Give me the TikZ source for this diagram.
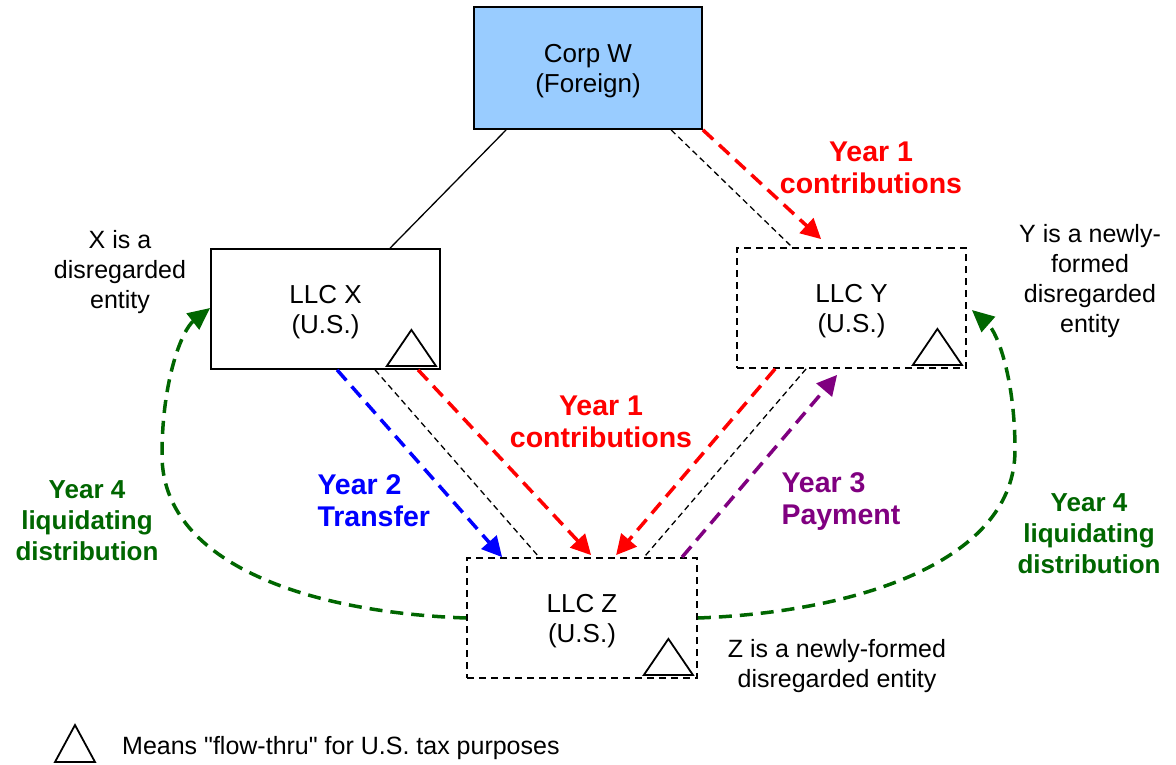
\documentclass[tikz,border=0pt]{standalone}
\usepackage{fontspec}
\setmainfont{Liberation Sans}[Ligatures=TeXOff]
\usetikzlibrary{arrows.meta}
\definecolor{wblue}{HTML}{99CCFF}
\definecolor{dgreen}{HTML}{006600}
\definecolor{purp}{HTML}{800080}
\begin{document}
\begin{tikzpicture}[x=1pt,y=-1pt,
 box/.style={draw, line width=1.8pt, minimum width=229pt, minimum height=120pt, inner sep=0pt, align=center, text depth=0pt, font=\fontsize{26}{30}\selectfont},
 dbox/.style={box, dash pattern=on 7pt off 5pt},
 note/.style={align=center, font=\fontsize{25}{30}\selectfont},
 lab/.style={align=center, font=\fontsize{28.5}{32}\selectfont\bfseries},
 llab/.style={lab, align=left, anchor=west},
 glab/.style={align=center, font=\fontsize{26}{31}\selectfont\bfseries, text=dgreen},
 flow/.style={line width=3.5pt, dash pattern=on 14pt off 8pt, -{Triangle[length=20pt,width=20pt]}},
 gflow/.style={line width=3.5pt, dash pattern=on 13pt off 8pt, dgreen, -{Triangle[length=22pt,width=20pt]}},
 own/.style={line width=1.3pt},
 ownd/.style={own, dash pattern=on 6pt off 4pt},
 tri/.style={draw, line width=1.8pt, line join=miter}]
\useasboundingbox (0,0) rectangle (1176,764);

% boxes
\node[box, fill=wblue, minimum width=228pt, minimum height=122pt] (W) at (588,68) {Corp W\\(Foreign)};
\node[box] (X) at (325.5,309) {LLC X\\(U.S.)};
\node[dbox] (Y) at (851.5,308) {LLC Y\\(U.S.)};
\node[dbox, minimum width=230pt] (Z) at (582,618) {LLC Z\\(U.S.)};

% flow-thru triangles
\foreach \b in {X,Y,Z}{
  \draw[tri] ([shift={(-54,-4)}]\b.south east) -- ([shift={(-5,-4)}]\b.south east) -- ([shift={(-29.5,-40)}]\b.south east) -- cycle;
}

% ownership lines
\draw[own] ([shift={(33,0)}]W.south west) -- ([shift={(180,0)}]X.north west);
\draw[ownd] ([shift={(198,0)}]W.south west) -- ([shift={(56,0)}]Y.north west);
\draw[ownd] ([shift={(165,0)}]X.south west) -- ([shift={(73,0)}]Z.north west);
\draw[ownd] ([shift={(70,0)}]Y.south west) -- ([shift={(178,0)}]Z.north west);

% flows
\draw[flow,red] (W.south east) -- ([shift={(85,-8)}]Y.north west);
\draw[flow,blue] ([shift={(127,0)}]X.south west) -- ([shift={(36,0)}]Z.north west);
\draw[flow,red] ([shift={(208,0)}]X.south west) -- ([shift={(125,-2)}]Z.north west);
\draw[flow,red] ([shift={(39,0)}]Y.south west) -- ([shift={(150,-2)}]Z.north west);
\draw[flow,purp] ([shift={(216,0)}]Z.north west) -- ([shift={(101,6)}]Y.south west);

% liquidating distributions
\coordinate (xin) at ([shift={(0,-1)}]X.west);
\coordinate (yin) at ([shift={(5,2)}]Y.east);
\draw[gflow] (Z.west) .. controls (300,612) and (162,560) .. (162,455)
  .. controls (162,380) and (182,330) .. (xin);
\draw[gflow] (Z.east) .. controls (860,612) and (1015,560) .. (1015,450)
  .. controls (1015,380) and (998,333) .. (yin);

% labels
\node[lab, text=red] (l1) at (871,168) {Year 1\\contributions};
\node[lab, text=red] (l2) at (601,422) {Year 1\\contributions};
\node[llab, text=blue] (l3) at (314,501) {Year 2\\Transfer};
\node[llab, text=purp] (l4) at (778,501) {Year 3\\Payment};
\node[glab] (g1) at (87,521) {Year 4\\liquidating\\distribution};
\node[glab] (g2) at (1089,534) {Year 4\\liquidating\\distribution};

% notes
\node[note] (nx) at (120,272) {X is a\\disregarded\\entity};
\node[note] (ny) at (1090,281) {Y is a newly-\\formed\\disregarded\\entity};
\node[note] (nz) at (837,666) {Z is a newly-formed\\disregarded entity};

% legend
\draw[tri] (55,762) -- (95,762) -- (75,725) -- cycle;
\node[note, anchor=west, inner sep=0pt] (leg) at (122,748) {Means "flow-thru" for U.S. tax purposes};
\end{tikzpicture}
\end{document}
